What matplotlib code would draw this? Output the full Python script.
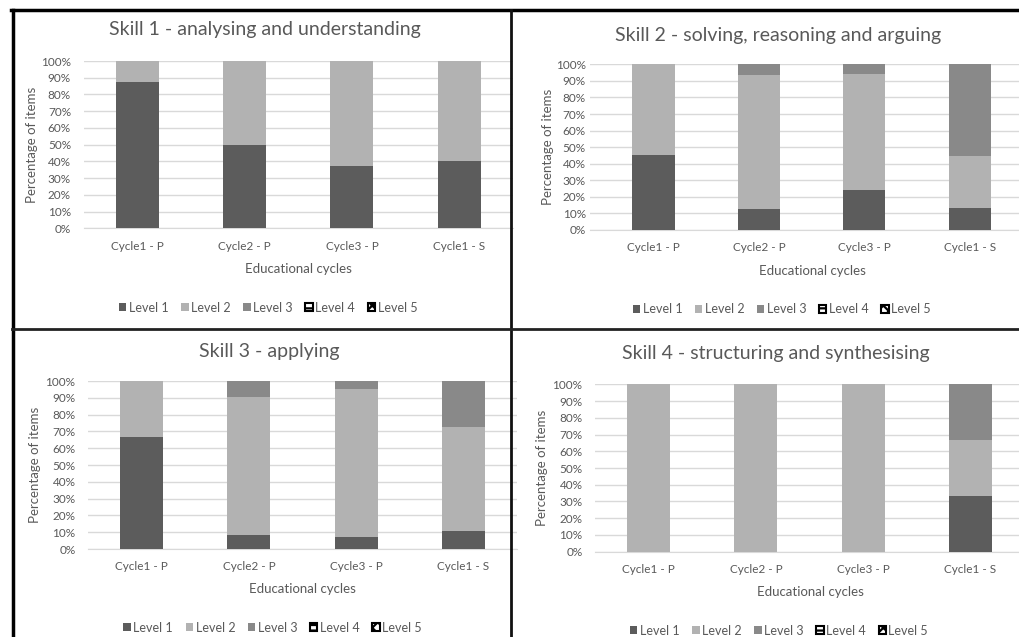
import numpy as np
import matplotlib
matplotlib.use('Agg')
import matplotlib.pyplot as plt
import matplotlib.patches as mpatches
from matplotlib.lines import Line2D

plt.rcParams['font.family'] = ['Lato', 'DejaVu Sans']
plt.rcParams['hatch.linewidth'] = 1.6

W, H = 1019, 637

# データ
cycles = ['Cycle1 - P', 'Cycle2 - P', 'Cycle3 - P', 'Cycle1 - S']
levels = ['Level 1', 'Level 2', 'Level 3', 'Level 4', 'Level 5']
titles = ['Skill 1 - analysing and understanding',
          'Skill 2 - solving, reasoning and arguing',
          'Skill 3 - applying',
          'Skill 4 - structuring and synthesising']

skill1 = [[87.5, 50.0, 37.5, 40.0],
          [12.5, 50.0, 62.5, 60.0],
          [0, 0, 0, 0],
          [0, 0, 0, 0],
          [0, 0, 0, 0]]
skill2 = [[45.5, 12.5, 24.0, 13.5],
          [54.5, 81.0, 70.0, 31.0],
          [0, 6.5, 6.0, 55.5],
          [0, 0, 0, 0],
          [0, 0, 0, 0]]
skill3 = [[66.7, 8.3, 7.4, 11.0],
          [33.3, 82.4, 88.0, 61.7],
          [0, 9.3, 4.6, 27.3],
          [0, 0, 0, 0],
          [0, 0, 0, 0]]
skill4 = [[0, 0, 0, 33.3],
          [100, 100, 100, 33.3],
          [0, 0, 0, 33.4],
          [0, 0, 0, 0],
          [0, 0, 0, 0]]
skills = [skill1, skill2, skill3, skill4]

colors = ['#5c5c5c', '#b2b2b2', '#898989', 'white', 'white']
hatches = [None, None, None, '---', 'xxx']
txt = '#595959'

# パネルの配置 (ピクセル): 軸の左, 右, 上, 下, xlim
panels = [
    dict(ax=(83.5, 513, 61, 228.3), xlim=(-0.5, 3.5), title=(265, 30),
         ylab=(31.7, 145), xlab=(298, 269), leg=(268, 307.7)),
    dict(ax=(590, 1019, 64.3, 230), xlim=(-0.602, 3.468), title=(778.5, 35),
         ylab=(548, 147), xlab=(812, 271), leg=(781.7, 309)),
    dict(ax=(88, 517, 381, 549), xlim=(-0.5, 3.5), title=(269, 352),
         ylab=(35, 465), xlab=(302, 589.3), leg=(272.5, 627.7)),
    dict(ax=(595, 1019, 384.3, 551.7), xlim=(-0.5, 3.453), title=(776, 354),
         ylab=(541.7, 468), xlab=(810, 592.3), leg=(779, 630.7)),
]

fig = plt.figure(figsize=(W / 100, H / 100), dpi=100)
x = np.arange(len(cycles))

for i, p in enumerate(panels):
    x0, x1, y0, y1 = p['ax']
    ax = fig.add_axes([x0 / W, 1 - y1 / H, (x1 - x0) / W, (y1 - y0) / H])
    data = skills[i]
    bottom = np.zeros(len(cycles))
    for j, lev in enumerate(levels):
        vals = np.array(data[j], dtype=float)
        ax.bar(x, vals, 0.4, bottom=bottom, color=colors[j], linewidth=0, zorder=3)
        bottom += vals
    ax.set_xlim(*p['xlim'])
    ax.set_ylim(0, 100)
    ax.set_yticks(np.arange(0, 101, 10))
    ax.set_yticklabels([f'{v}%' for v in range(0, 101, 10)])
    ax.set_xticks(x)
    ax.set_xticklabels(cycles)
    ax.tick_params(length=0, labelsize=8.5, colors=txt)
    ax.tick_params(axis='x', pad=9)
    ax.tick_params(axis='y', pad=9 if i != 1 else 3)
    ax.grid(axis='y', color='#d9d9d9', linewidth=1, zorder=0)
    for s in ['top', 'right', 'left']:
        ax.spines[s].set_visible(False)
    ax.spines['bottom'].set_color('#d9d9d9')
    ax.set_facecolor('none')

    fig.text(p['title'][0] / W, 1 - p['title'][1] / H, titles[i], fontsize=14,
             color=txt, ha='center', va='center')
    fig.text(p['ylab'][0] / W, 1 - p['ylab'][1] / H, 'Percentage of items', fontsize=9.5,
             color=txt, ha='center', va='center', rotation=90)
    fig.text(p['xlab'][0] / W, 1 - p['xlab'][1] / H, 'Educational cycles', fontsize=9.5,
             color=txt, ha='center', va='center')

    handles = []
    for j, lev in enumerate(levels):
        if hatches[j] is None:
            handles.append(mpatches.Patch(facecolor=colors[j], edgecolor='none', label=lev))
        else:
            handles.append(mpatches.Patch(facecolor='white', edgecolor='black',
                                          hatch=hatches[j], linewidth=1.5, label=lev))
    leg = ax.legend(handles=handles, loc='center', ncol=5, frameon=False,
                    bbox_to_anchor=(p['leg'][0] / W, 1 - p['leg'][1] / H),
                    bbox_transform=fig.transFigure, fontsize=9,
                    handlelength=0.6, handleheight=0.6, handletextpad=0.2,
                    columnspacing=1.0, labelcolor=txt)

# 枠線
fig.add_artist(Line2D([12.5 / W, 12.5 / W], [0, 1 - 9.5 / H], color='black', lw=2.5))
fig.add_artist(Line2D([11 / W, 1], [1 - 10 / H, 1 - 10 / H], color='black', lw=2.5))
fig.add_artist(Line2D([511 / W, 511 / W], [0, 1 - 10 / H], color='#111111', lw=2))
fig.add_artist(Line2D([12 / W, 1], [1 - 329 / H, 1 - 329 / H], color='#222222', lw=2))

fig.savefig('out.png', dpi=100)
